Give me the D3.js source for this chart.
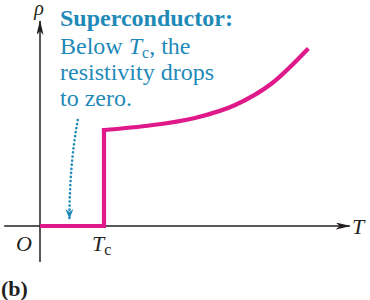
<!DOCTYPE html>
<html>
<head>
<meta charset="utf-8">
<script src="https://cdn.jsdelivr.net/npm/d3@7"></script>
<style>
  body { margin: 0; background: #fff; }
  svg { display: block; }
  text { font-family: "Liberation Serif", "DejaVu Serif", serif; }
</style>
</head>
<body>
<script>
(function() {
    // chart data (T in units of Tc, rho in arbitrary units)
    var superT = [0, 1];
    var superRho = [0, 0];
    var normalT = [1, 1.64, 2.42, 3.05, 3.63, 4.17];
    var normalRho = [0.96, 1.0, 1.08, 1.21, 1.43, 1.76];
    var noteLines = ["Superconductor:", "Below ", "resistivity drops", "to zero."];

    var width = 370, height = 300;
    var pink = "#e0198b", teal = "#1f8ab8", ink = "#231f20";

    var svg = d3.select("body").append("svg")
        .attr("width", width)
        .attr("height", height);

    var x = d3.scaleLinear().domain([0, 5]).range([40, 360]);
    var y = d3.scaleLinear().domain([0, 2]).range([226, 26]);

    // arrow markers
    var defs = svg.append("defs");
    defs.append("marker")
        .attr("id", "axisHead")
        .attr("viewBox", "0 0 15 7")
        .attr("refX", 14).attr("refY", 3.5)
        .attr("markerWidth", 15).attr("markerHeight", 7)
        .attr("markerUnits", "userSpaceOnUse")
        .attr("orient", "auto")
        .append("path")
        .attr("d", "M0,0 L15,3.5 L0,7 L4,3.5 Z")
        .attr("fill", ink);
    defs.append("marker")
        .attr("id", "dotHead")
        .attr("viewBox", "0 0 10 8")
        .attr("refX", 9).attr("refY", 4)
        .attr("markerWidth", 10).attr("markerHeight", 8)
        .attr("markerUnits", "userSpaceOnUse")
        .attr("orient", "auto")
        .append("path")
        .attr("d", "M0,0 L10,4 L0,8 L3,4 Z")
        .attr("fill", teal);

    // axes
    svg.append("line")
        .attr("x1", x(-0.56)).attr("y1", y(0))
        .attr("x2", x(4.84)).attr("y2", y(0))
        .attr("stroke", ink).attr("stroke-width", 1.5)
        .attr("marker-end", "url(#axisHead)");
    svg.append("line")
        .attr("x1", x(0)).attr("y1", y(-0.36))
        .attr("x2", x(0)).attr("y2", y(2.05))
        .attr("stroke", ink).attr("stroke-width", 1.5)
        .attr("marker-end", "url(#axisHead)");

    // resistivity curve
    var stepLine = d3.line()
        .x(function(d) { return x(d[0]); })
        .y(function(d) { return y(d[1]); });
    var stepPts = superT.map(function(t, i) { return [t, superRho[i]]; });
    stepPts.push([normalT[0], normalRho[0]]);
    svg.append("path")
        .attr("d", stepLine(stepPts))
        .attr("fill", "none")
        .attr("stroke", pink).attr("stroke-width", 4.2)
        .attr("stroke-linejoin", "miter");

    var curveLine = d3.line()
        .x(function(d) { return x(d[0]); })
        .y(function(d) { return y(d[1]); })
        .curve(d3.curveMonotoneX);
    var normalPts = normalT.map(function(t, i) { return [t, normalRho[i]]; });
    svg.append("path")
        .attr("d", curveLine(normalPts))
        .attr("fill", "none")
        .attr("stroke", pink).attr("stroke-width", 4.2)
        .attr("stroke-linecap", "square");

    // annotation text
    var note = svg.append("text")
        .attr("fill", teal)
        .attr("font-size", 24);
    note.append("tspan").attr("x", 60).attr("y", 26)
        .attr("font-weight", "bold").text(noteLines[0]);
    note.append("tspan").attr("x", 60).attr("y", 54).text(noteLines[1]);
    note.append("tspan").attr("font-style", "italic").text("T");
    note.append("tspan").attr("font-size", 16).attr("dy", 4).text("c");
    note.append("tspan").attr("dy", -4).text(", the");
    note.append("tspan").attr("x", 60).attr("y", 80).text(noteLines[2]);
    note.append("tspan").attr("x", 60).attr("y", 106).text(noteLines[3]);

    // dotted pointer
    svg.append("path")
        .attr("d", "M" + x(0.59) + "," + y(1.06) +
                   " Q" + x(0.46) + "," + y(0.6) + " " + x(0.46) + "," + y(0.08))
        .attr("fill", "none")
        .attr("stroke", teal).attr("stroke-width", 2.6)
        .attr("stroke-dasharray", "0.1 4")
        .attr("stroke-linecap", "round")
        .attr("marker-end", "url(#dotHead)");

    // axis labels
    svg.append("text")
        .attr("x", x(0) - 1).attr("y", 15)
        .attr("text-anchor", "middle")
        .attr("font-style", "italic").attr("font-size", 20)
        .attr("fill", ink)
        .text("\u03c1");
    svg.append("text")
        .attr("x", 352).attr("y", y(0) + 8)
        .attr("font-style", "italic").attr("font-size", 22)
        .attr("fill", ink)
        .text("T");
    svg.append("text")
        .attr("x", 16).attr("y", y(0) + 25)
        .attr("font-style", "italic").attr("font-size", 22)
        .attr("fill", ink)
        .text("O");
    var tc = svg.append("text")
        .attr("x", x(1) - 12).attr("y", y(0) + 25)
        .attr("font-size", 22)
        .attr("fill", ink);
    tc.append("tspan").attr("font-style", "italic").text("T");
    tc.append("tspan").attr("font-size", 16).attr("dy", 4).text("c");

    svg.append("text")
        .attr("x", 1).attr("y", 296)
        .attr("font-weight", "bold").attr("font-size", 22)
        .attr("fill", ink)
        .text("(b)");
})();
</script>
</body>
</html>
